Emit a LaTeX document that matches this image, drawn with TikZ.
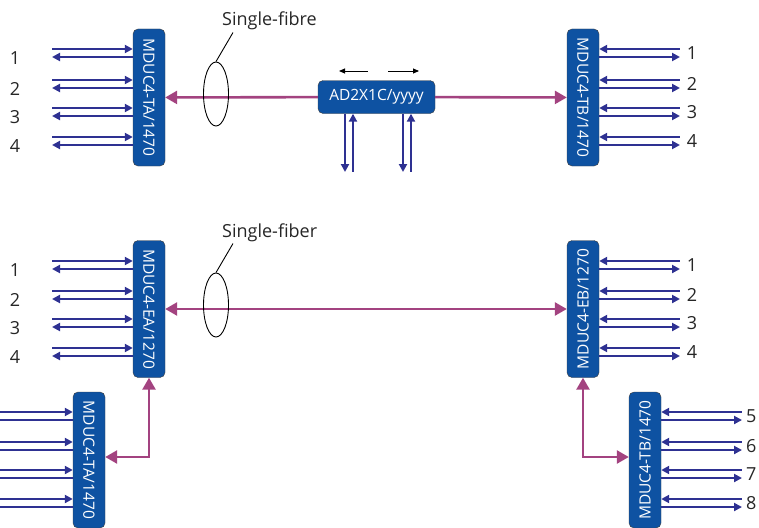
\documentclass[tikz,border=0pt]{standalone}
\usepackage{fontspec}
\setmainfont{Open Sans}
\usetikzlibrary{arrows.meta, shapes.geometric}

\definecolor{boxblue}{RGB}{14,82,162}
\definecolor{lineblue}{RGB}{46,49,146}
\definecolor{fibrecol}{RGB}{163,67,128}

\begin{document}
\begin{tikzpicture}[
  x=1pt, y=-1pt,
  mdbox/.style={draw=black!75, fill=boxblue, text=white, rounded corners=5pt, minimum width=32pt, minimum height=137pt, inner sep=0pt, font=\fontsize{15.5}{17}\selectfont},
  adbox/.style={mdbox, minimum width=117pt, minimum height=33pt},
  num/.style={font=\fontsize{18}{21}\selectfont, text=black!85, inner sep=0pt},
  cu/.style={draw=lineblue, line width=2.6pt, >={Triangle[length=8pt,width=8pt]}},
  fibre/.style={draw=fibrecol, line width=2.6pt, >={Triangle[length=12pt,width=13pt]}},
  dir/.style={draw=black, line width=0.9pt, >={Triangle[length=6pt,width=5pt]}},
  loop/.style={draw=black, ellipse, line width=0.9pt, minimum width=25pt, minimum height=64pt, inner sep=0pt}
]
  \path[use as bounding box, clip] (0,0) rectangle (759,527);

  % upper link
  \node[mdbox] (ta) at (149,97.5) {\rotatebox{-90}{MDUC4-TA/1470}};
  \node[adbox] (ad) at (376.5,97) {AD2X1C/yyyy};
  \node[mdbox] (tb) at (583,97.5) {\rotatebox{-90}{MDUC4-TB/1470}};

  \draw[fibre,<-] (ta) -- (ad);
  \draw[fibre,->] (ad) -- (tb);

  \node[loop] (loop1) at (216,94) {};
  \node[num, anchor=base west] (loop1-txt) at (222,26) {Single-fibre};
  \draw[line width=0.9pt] (loop1.north) -- ([shift={(11pt,-2pt)}]loop1-txt.south west);

  \coordinate (ad-l) at (339,71);
  \coordinate (ad-r) at (419,71);
  \draw[dir,<-] (ad-l) -- ++(29,0) coordinate (ad-lm);
  \draw[dir,->] (ad-r) ++(-31,0) coordinate (ad-rm) -- (ad-r);

  \coordinate (ad-a) at (345,172);
  \coordinate (ad-b) at (353,172);
  \coordinate (ad-c) at (403,172);
  \coordinate (ad-d) at (411,172);
  \draw[cu,->] (ad-a |- ad.south) -- (ad-a);
  \draw[cu,<-] (ad-b |- ad.south) -- (ad-b);
  \draw[cu,->] (ad-c |- ad.south) -- (ad-c);
  \draw[cu,<-] (ad-d |- ad.south) -- (ad-d);

  \foreach \y/\n in {49/1, 80/2, 108/3, 137/4} {
    \coordinate (ta-in\n) at (52,\y);
    \coordinate (ta-out\n) at (52,\y+8);
    \draw[cu,->] (ta-in\n) -- (ta-in\n -| ta.west);
    \draw[cu,<-] (ta-out\n) -- (ta-out\n -| ta.west);
    \node[num] (ta-n\n) at (15,\y+9) {\n};

    \coordinate (tb-in\n) at (680,\y);
    \coordinate (tb-out\n) at (680,\y+8);
    \draw[cu,<-] (tb-in\n -| tb.east) -- (tb-in\n);
    \draw[cu,->] (tb-out\n -| tb.east) -- (tb-out\n);
    \node[num] (tb-n\n) at (692,\y+4) {\n};
  }

  % lower link
  \node[mdbox] (ea) at (149,309) {\rotatebox{-90}{MDUC4-EA/1270}};
  \node[mdbox] (eb) at (583,309) {\rotatebox{90}{MDUC4-EB/1270}};
  \node[mdbox, minimum height=136pt] (tab) at (89,460) {\rotatebox{-90}{MDUC4-TA/1470}};
  \node[mdbox, minimum height=136pt] (tbb) at (645,460) {\rotatebox{90}{MDUC4-TB/1470}};

  \draw[fibre,<->] (ea) -- (eb);
  \draw[fibre,<->] (ea.south) |- ([yshift=3pt]tab.east);
  \draw[fibre,<->] (eb.south) |- ([yshift=3pt]tbb.west);

  \node[loop] (loop2) at (216,305) {};
  \node[num, anchor=base west] (loop2-txt) at (222,237) {Single-fiber};
  \draw[line width=0.9pt] (loop2.north) -- ([shift={(11pt,-2pt)}]loop2-txt.south west);

  \foreach \y/\n in {261/1, 291/2, 319/3, 348/4} {
    \coordinate (ea-in\n) at (52,\y);
    \coordinate (ea-out\n) at (52,\y+8);
    \draw[cu,->] (ea-in\n) -- (ea-in\n -| ea.west);
    \draw[cu,<-] (ea-out\n) -- (ea-out\n -| ea.west);
    \node[num] (ea-n\n) at (15,\y+9) {\n};

    \coordinate (eb-in\n) at (680,\y);
    \coordinate (eb-out\n) at (680,\y+8);
    \draw[cu,<-] (eb-in\n -| eb.east) -- (eb-in\n);
    \draw[cu,->] (eb-out\n -| eb.east) -- (eb-out\n);
    \node[num] (eb-n\n) at (692,\y+4) {\n};
  }

  \foreach \y/\n in {412/5, 442/6, 470/7, 499/8} {
    \coordinate (tab-in\n) at (-2,\y);
    \coordinate (tab-out\n) at (-14,\y+8);
    \draw[cu,->] (tab-in\n) -- (tab-in\n -| tab.west);
    \draw[cu,<-] (tab-out\n) -- (tab-out\n -| tab.west);

    \coordinate (tbb-in\n) at (742,\y);
    \coordinate (tbb-out\n) at (742,\y+8);
    \draw[cu,<-] (tbb-in\n -| tbb.east) -- (tbb-in\n);
    \draw[cu,->] (tbb-out\n -| tbb.east) -- (tbb-out\n);
    \node[num, anchor=west] (tbb-n\n) at (746,\y+4) {\n};
  }
\end{tikzpicture}
\end{document}
